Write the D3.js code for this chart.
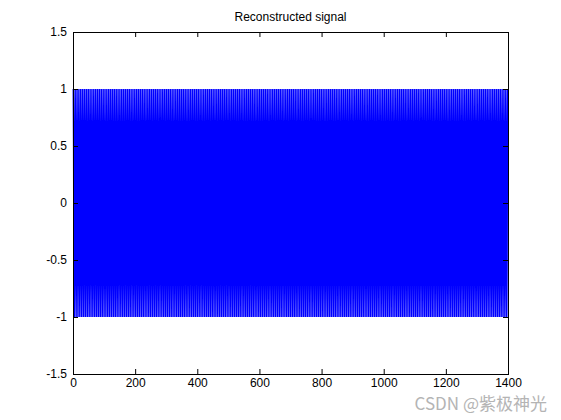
<!DOCTYPE html>
<html>
<head>
<meta charset="utf-8">
<script src="https://cdn.jsdelivr.net/npm/d3@7"></script>
<style>
  body { margin: 0; background: #fff; }
  text { font-family: "Liberation Sans", Arial, sans-serif; }
</style>
</head>
<body>
<div id="chart"></div>
<script>
// one period of the reconstructed signal
var periodValues = [1, 0.5, -0.5, -1, -0.5, 0.5];
var sampleCount = 1400;
var xTicks = [0, 200, 400, 600, 800, 1000, 1200, 1400];
var yTicks = [-1.5, -1, -0.5, 0, 0.5, 1, 1.5];
var titleText = "Reconstructed signal";

(function(){

    // tile the period over all samples (matlab plot(y) indexes from 1)
    var signal = [];
    for (var i = 0; i < sampleCount; i++) {
        signal.push({n: i + 1, v: periodValues[i % periodValues.length]});
    }

    var width = 561, height = 420;
    var plotLeft = 73, plotRight = 508, plotTop = 32, plotBottom = 374;

    var svg = d3.select("#chart")
        .append("svg")
        .attr("width", width)
        .attr("height", height);

    var x = d3.scaleLinear().domain([0, 1400]).range([plotLeft, plotRight]);
    var y = d3.scaleLinear().domain([-1.5, 1.5]).range([plotBottom, plotTop]);

    var fmt = function (d) { return String(d); };

    // signal line
    var line = d3.line()
        .x(function (d) { return x(d.n); })
        .y(function (d) { return y(d.v); });

    svg.append("path")
        .datum(signal)
        .attr("d", line)
        .attr("fill", "none")
        .attr("stroke", "#0000ff")
        .attr("stroke-width", 1.5)
        .attr("stroke-linejoin", "bevel");

    // axes with inward ticks like matlab
    svg.append("g")
        .attr("transform", "translate(0," + plotBottom + ")")
        .call(d3.axisBottom(x).tickValues(xTicks).tickFormat(fmt)
            .tickSizeInner(-5).tickSizeOuter(0).tickPadding(4));

    svg.append("g")
        .attr("transform", "translate(" + plotLeft + ",0)")
        .call(d3.axisLeft(y).tickValues(yTicks).tickFormat(fmt)
            .tickSizeInner(-5).tickSizeOuter(0).tickPadding(6));

    svg.append("g")
        .attr("transform", "translate(0," + plotTop + ")")
        .call(d3.axisTop(x).tickValues(xTicks).tickFormat("")
            .tickSizeInner(-5).tickSizeOuter(0));

    svg.append("g")
        .attr("transform", "translate(" + plotRight + ",0)")
        .call(d3.axisRight(y).tickValues(yTicks).tickFormat("")
            .tickSizeInner(-5).tickSizeOuter(0));

    svg.selectAll(".tick text")
        .attr("font-size", 12)
        .attr("font-family", "Liberation Sans, Arial, sans-serif")
        .attr("fill", "#000");
    svg.selectAll(".domain").remove();
    svg.selectAll(".tick line").attr("stroke", "#000");

    // box
    svg.append("rect")
        .attr("x", plotLeft + 0.5)
        .attr("y", plotTop + 0.5)
        .attr("width", plotRight - plotLeft)
        .attr("height", plotBottom - plotTop)
        .attr("fill", "none")
        .attr("stroke", "#000")
        .attr("stroke-width", 1);

    // title
    svg.append("text")
        .attr("x", (plotLeft + plotRight) / 2)
        .attr("y", 21)
        .attr("text-anchor", "middle")
        .attr("font-size", 12)
        .text(titleText);

    // watermark
    svg.append("text")
        .attr("x", 547)
        .attr("y", 410)
        .attr("text-anchor", "end")
        .attr("font-size", 17)
        .attr("fill", "#b4b4b4")
        .style("font-family", "'Noto Sans CJK SC', sans-serif")
        .text("CSDN @紫极神光");

})();
</script>
</body>
</html>
